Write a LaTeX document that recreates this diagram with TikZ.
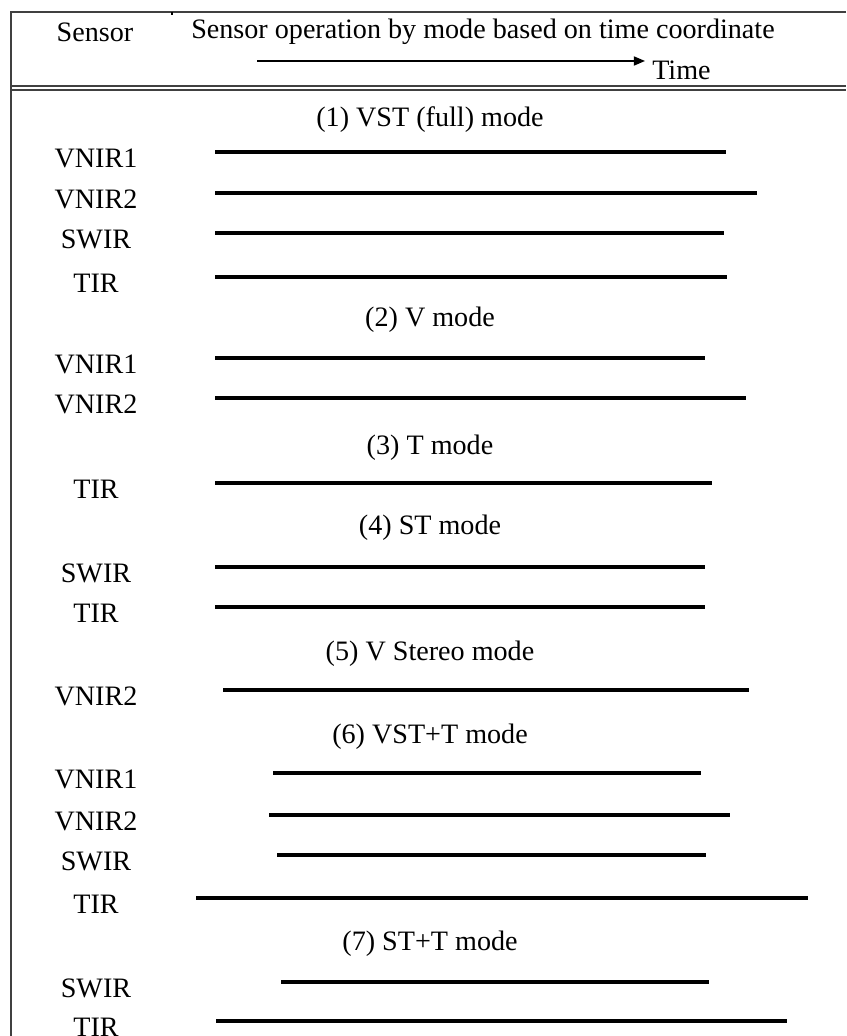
\documentclass[tikz,border=0pt]{standalone}
\usepackage{fontspec}
\setmainfont{Liberation Serif}
\usetikzlibrary{arrows.meta}

\begin{document}
\begin{tikzpicture}[x=0.025cm,y=-0.025cm,
  every node/.style={font=\fontsize{20}{23}\selectfont},
  frame/.style={line width=1.1pt,draw=black!75},
  bar/.style={line width=3.5pt},
  lbl/.style={anchor=center}]
  \useasboundingbox (0,0) rectangle (846,1036);
  % table frame
  \draw[frame] (846,12) -- (11,12) -- (11,1036);
  \draw[frame] (11,86) -- (846,86);
  \draw[frame] (11,90) -- (846,90);
  \draw[line width=0.8pt] (172,12) -- (172,15);
  % header
  \node (hsensor) at (95,32) {Sensor};
  \node (hop) at (483,32) {Sensor operation by mode based on time coordinate};
  \node[anchor=west,inner sep=0pt] (htime) at (652,70) {Time};
  \coordinate (tstart) at (257,61);
  \coordinate (tend) at (645,61);
  \draw[line width=1.1pt,-{Triangle[length=8pt,width=6.5pt]}] (tstart) -- (tend);
  % mode titles
  \foreach \m/\t/\y in {1/{(1) VST (full) mode}/120, 2/{(2) V mode}/320,
      3/{(3) T mode}/448, 4/{(4) ST mode}/528, 5/{(5) V Stereo mode}/654,
      6/{(6) VST+T mode}/737, 7/{(7) ST+T mode}/944}
    \node (mode\m) at (430,\y) {\t};
  % sensors and their operation bars
  \foreach \n/\lab/\y/\a/\b in {1/VNIR1/152/215/726, 2/VNIR2/193/215/757,
      3/SWIR/233/215/724, 4/TIR/277/215/727,
      5/VNIR1/358/215/705, 6/VNIR2/398/215/746,
      7/TIR/483/215/712,
      8/SWIR/567/215/705, 9/TIR/607/215/705,
      10/VNIR2/690/223/749,
      11/VNIR1/773/273/701, 12/VNIR2/815/269/730, 13/SWIR/855/277/706, 14/TIR/898/196/808,
      15/SWIR/982/281/709, 16/TIR/1021/216/787}
  {
    \node[lbl] (s\n) at (96,\y+6) {\lab};
    \coordinate (a\n) at (\a,\y);
    \coordinate (b\n) at (\b,\y);
    \draw[bar] (a\n) -- (b\n);
  }
\end{tikzpicture}
\end{document}
